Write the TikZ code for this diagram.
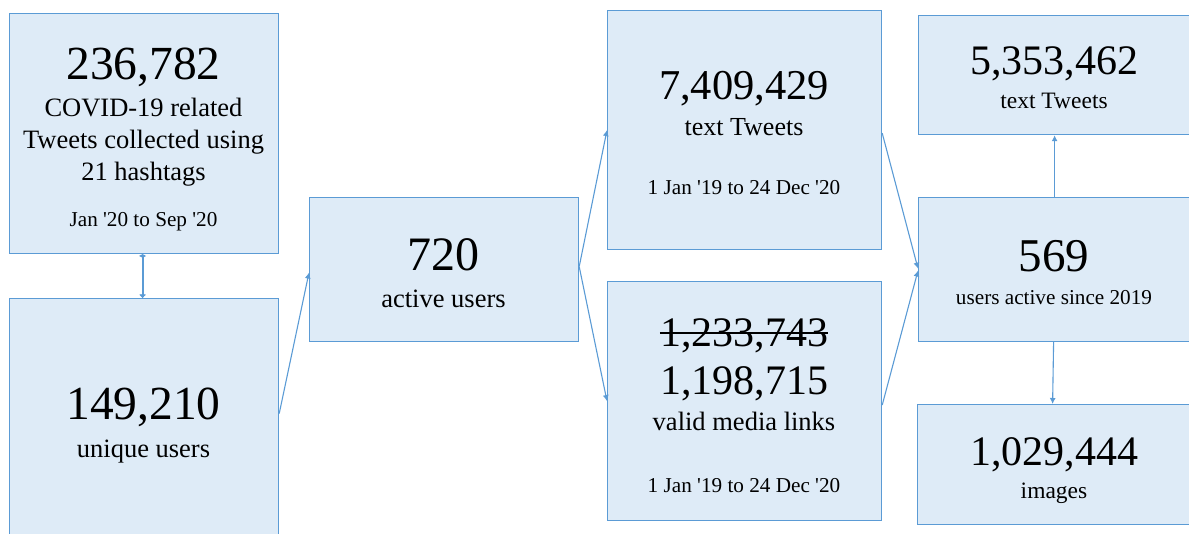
\documentclass[tikz,border=0pt]{standalone}
\usepackage{fontspec}
\setmainfont{Liberation Serif}
\usetikzlibrary{arrows.meta}
\definecolor{boxfill}{HTML}{DEEBF7}
\definecolor{boxline}{HTML}{5B9BD5}
\newcommand{\fs}[1]{\fontsize{#1}{#1}\selectfont}
\newcommand{\qs}{\textquotesingle}
\begin{document}
\begin{tikzpicture}[x=1pt,y=-1pt,
  box/.style={draw=boxline,fill=boxfill,line width=1.2pt,inner sep=0pt,anchor=north west},
  txt/.style={inner sep=0pt,anchor=base,text=black},
  conn/.style={draw=boxline,line width=1.1pt,-{Latex[length=6pt,width=6pt]}},
  big/.style={txt,font=\fs{47.5}},
  mid/.style={txt,font=\fs{26.5}},
  sm/.style={txt,font=\fs{21.2}}]
\useasboundingbox (0,0) rectangle (1189,534);
% boxes
\node[box,minimum width=269pt,minimum height=240pt] (A) at (9,13) {};
\node[box,minimum width=269pt,minimum height=240pt] (B) at (9,298) {};
\node[box,minimum width=269pt,minimum height=144pt] (C) at (309,197) {};
\node[box,minimum width=274pt,minimum height=239pt] (D) at (607,10) {};
\node[box,minimum width=274pt,minimum height=239pt] (E) at (607,281) {};
\node[box,minimum width=280pt,minimum height=119pt] (F) at (918,15) {};
\node[box,minimum width=280pt,minimum height=144pt] (G) at (918,197) {};
\node[box,minimum width=280pt,minimum height=120pt] (H) at (917,404) {};
% texts A
\node[big] (a1) at (143.5,80) {236,782};
\node[mid] (a2) at (143.5,117) {COVID-19 related};
\node[mid] (a3) at (143.5,149) {Tweets collected using};
\node[mid] (a4) at (143.5,181) {21 hashtags};
\node[sm] (a5) at (143.5,227) {Jan \qs20 to Sep \qs20};
% texts B
\node[big] (b1) at (143.5,420) {149,210};
\node[mid] (b2) at (143.5,457) {unique users};
% texts C
\node[big,font=\fs{48}] (c1) at (443.5,271) {720};
\node[mid] (c2) at (443.5,308) {active users};
% texts D
\node[txt,font=\fs{42.5}] (d1) at (744,100) {7,409,429};
\node[txt,font=\fs{26}] (d2) at (744,136) {text Tweets};
\node[sm] (d3) at (744,195) {1 Jan \qs19 to 24 Dec \qs20};
% texts E
\node[txt,font=\fs{42}] (e0) at (744,347) {1,233,743};
\draw[black,line width=1.8pt] ([yshift=14pt]e0.base west) -- ([yshift=14pt]e0.base east);
\node[txt,font=\fs{42}] (e1) at (744,395) {1,198,715};
\node[mid] (e2) at (744,431) {valid media links};
\node[sm] (e3) at (744,492) {1 Jan \qs19 to 24 Dec \qs20};
% texts F
\node[txt,font=\fs{42}] (f1) at (1054,75) {5,353,462};
\node[txt,font=\fs{23.5}] (f2) at (1054,109) {text Tweets};
% texts G
\node[big,font=\fs{47}] (g1) at (1054,272) {569};
\node[sm] (g2) at (1054,305) {users active since 2019};
% texts H
\node[txt,font=\fs{42}] (h1) at (1054,465) {1,029,444};
\node[txt,font=\fs{23.5}] (h2) at (1054,498) {images};
% connectors
\draw[draw=boxline,line width=1.8pt,{Circle[length=3.5pt,width=5pt]}-{Latex[length=4pt,width=8pt,round]}] ([xshift=-1.5pt]A.south) -- ([xshift=-1.5pt]B.north);
\draw[conn] ([yshift=5pt]B.east) -- ([yshift=-3pt]C.west);
\draw[conn] ([yshift=3pt]C.east) -- (D.west);
\draw[conn] ([yshift=3pt]C.east) -- (E.west);
\draw[conn] ([yshift=-3pt]D.east) -- ([yshift=1pt]G.west);
\draw[conn] ([yshift=-4pt]E.east) -- ([yshift=-1pt]G.west);
\draw[conn] ([xshift=-4pt]G.north) -- ([xshift=-4pt]F.south);
\draw[conn] ([xshift=-5pt]G.south) -- ([xshift=-5pt]H.north);
\end{tikzpicture}
\end{document}
